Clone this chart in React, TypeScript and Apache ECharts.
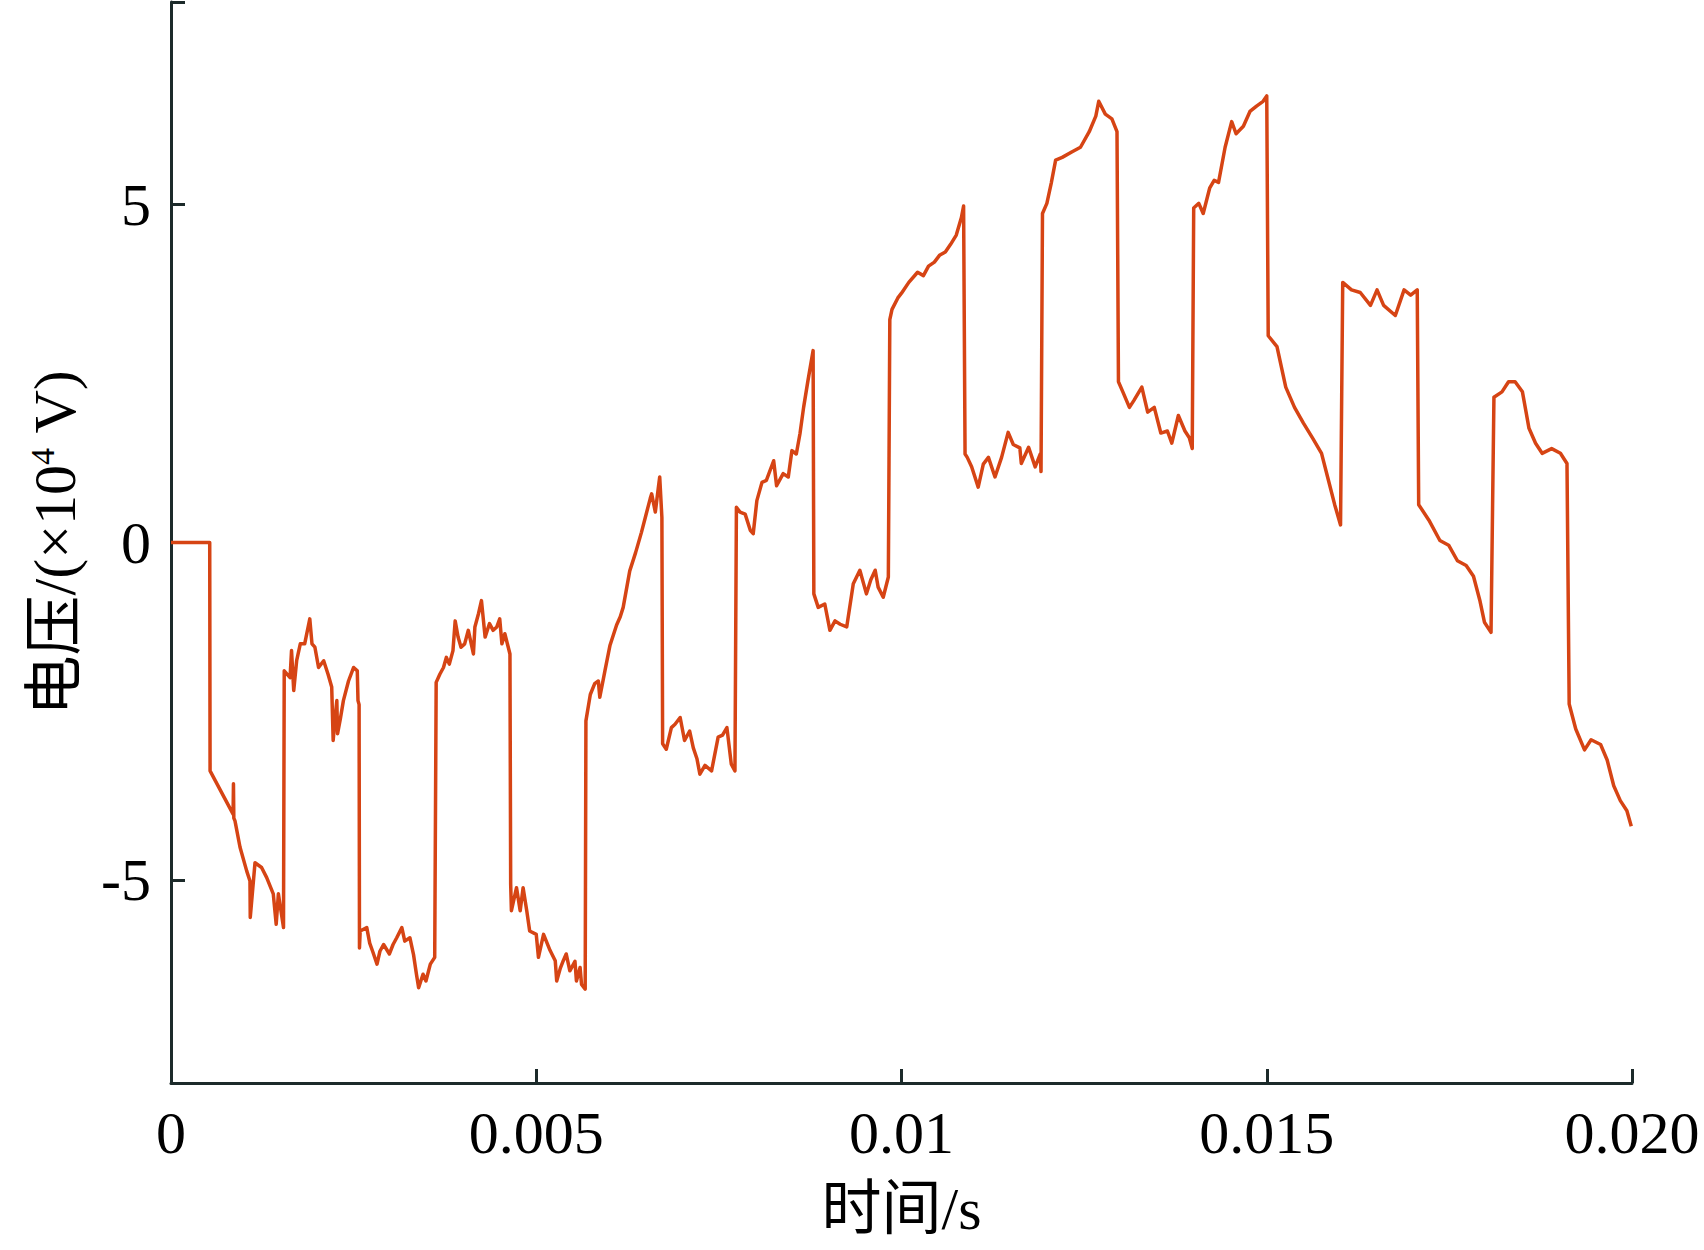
import React, { useEffect, useRef } from "react";
import * as echarts from "echarts";

// time in milliseconds (converted to seconds for the axis)
const timeMs = [
  0, 0.53, 0.535, 0.85, 0.855, 0.86, 0.876, 0.945, 1.036, 1.081, 1.085, 1.15, 1.24, 1.31, 1.40, 1.44, 1.47, 1.54,
  1.55, 1.63, 1.65, 1.68, 1.72, 1.77, 1.83, 1.90, 1.93, 1.97, 2.02, 2.09, 2.15, 2.20, 2.22, 2.25, 2.27, 2.28, 2.32, 2.36, 2.43, 2.50, 2.55, 2.56, 2.575,
  2.58, 2.59, 2.68, 2.72, 2.76, 2.82, 2.86, 2.91, 2.99, 3.04, 3.09, 3.16, 3.20, 3.27, 3.32, 3.36, 3.39, 3.45, 3.49, 3.55, 3.61,
  3.63, 3.68, 3.73, 3.77, 3.81, 3.86, 3.89, 3.93, 3.97, 4.02, 4.07, 4.14, 4.16, 4.21, 4.25, 4.30, 4.36, 4.41, 4.46, 4.50, 4.53, 4.57, 4.64,
  4.65, 4.66, 4.73, 4.78, 4.82, 4.87, 4.91, 5.0, 5.03, 5.10, 5.19, 5.26, 5.28, 5.33, 5.37, 5.41, 5.46, 5.53, 5.55, 5.60, 5.62, 5.67,
  5.68, 5.74, 5.80, 5.85, 5.87, 5.94, 6.01, 6.10, 6.15, 6.19, 6.28, 6.36, 6.44, 6.50, 6.56, 6.58, 6.63, 6.67, 6.69, 6.72,
  6.73, 6.78, 6.85, 6.90, 6.97, 7.03, 7.10, 7.15, 7.20, 7.24, 7.31, 7.40, 7.49, 7.55, 7.61, 7.67, 7.72,
  7.74, 7.79, 7.86, 7.93, 7.97, 8.02, 8.09, 8.15, 8.25, 8.29, 8.38, 8.45, 8.50, 8.56, 8.61, 8.66, 8.72, 8.79,
  8.80, 8.86, 8.95, 9.02, 9.09, 9.16, 9.25, 9.34, 9.43, 9.52, 9.58, 9.64, 9.68, 9.75, 9.82,
  9.84, 9.87, 9.95, 10.0, 10.1, 10.22, 10.3, 10.37, 10.45, 10.52, 10.6, 10.67, 10.75, 10.82, 10.85,
  10.87, 10.90, 10.96, 11.05, 11.12, 11.19, 11.28, 11.37, 11.46, 11.53, 11.62, 11.64, 11.74, 11.83, 11.90, 11.91,
  11.93, 11.99, 12.05, 12.11, 12.20, 12.33, 12.45, 12.57, 12.66, 12.70, 12.79, 12.88, 12.95,
  12.97, 13.03, 13.12, 13.18, 13.29, 13.37, 13.46, 13.55, 13.64, 13.70, 13.79, 13.88, 13.94, 13.98,
  14.0, 14.07, 14.13, 14.22, 14.28, 14.34, 14.43, 14.52, 14.58, 14.68, 14.77, 14.86, 14.95, 15.0,
  15.02, 15.14, 15.26, 15.38, 15.50, 15.63, 15.75, 15.84, 15.93, 16.01,
  16.04, 16.16, 16.28, 16.42, 16.51, 16.60, 16.76, 16.88, 16.97, 17.06,
  17.08, 17.22, 17.37, 17.49, 17.61, 17.73, 17.83, 17.92, 17.98, 18.07,
  18.11, 18.22, 18.31, 18.40, 18.50, 18.59, 18.68, 18.77, 18.90, 19.02, 19.11,
  19.14, 19.23, 19.35, 19.44, 19.57, 19.66, 19.75, 19.84, 19.93, 19.99,
];

// voltage in units of 10^4 V
const voltage = [
  0, 0, -3.38, -4.02, -3.57, -4.08, -4.12, -4.51, -4.86, -5.01, -5.55, -4.74, -4.81, -4.96, -5.20, -5.65, -5.20, -5.70,
  -1.90, -2.0, -1.60, -2.19, -1.75, -1.50, -1.50, -1.13, -1.50, -1.55, -1.85, -1.75, -1.95, -2.14, -2.93, -2.55, -2.34, -2.83, -2.60, -2.34, -2.05, -1.85, -1.90, -2.34, -2.40,
  -6.0, -5.75, -5.70, -5.93, -6.05, -6.24, -6.05, -5.95, -6.09, -5.95, -5.85, -5.70, -5.90, -5.85, -6.1, -6.39, -6.59, -6.39, -6.49, -6.24, -6.14,
  -2.07, -1.95, -1.85, -1.70, -1.80, -1.60, -1.16, -1.40, -1.55, -1.50, -1.30, -1.65, -1.25, -1.05, -0.86, -1.40, -1.20, -1.30, -1.25, -1.13, -1.50, -1.35, -1.65,
  -5.06, -5.45, -5.11, -5.45, -5.11, -5.45, -5.75, -5.8, -6.14, -5.8, -6.04, -6.19, -6.49, -6.3, -6.19, -6.09, -6.34, -6.2, -6.49, -6.29, -6.54, -6.61,
  -2.64, -2.25, -2.09, -2.05, -2.29, -1.90, -1.52, -1.22, -1.10, -0.96, -0.42, -0.15, 0.15, 0.40, 0.65, 0.72, 0.45, 0.80, 0.97, 0.37,
  -2.98, -3.06, -2.74, -2.69, -2.59, -2.93, -2.79, -3.04, -3.2, -3.43, -3.30, -3.38, -2.88, -2.85, -2.74, -3.28, -3.38,
  0.52, 0.45, 0.42, 0.18, 0.13, 0.62, 0.89, 0.92, 1.21, 0.84, 1.02, 0.97, 1.36, 1.31, 1.61, 2.0, 2.40, 2.84,
  -0.76, -0.96, -0.91, -1.30, -1.16, -1.21, -1.25, -0.61, -0.41, -0.76, -0.55, -0.41, -0.66, -0.81, -0.51,
  3.30, 3.45, 3.62, 3.69, 3.85, 4.0, 3.95, 4.09, 4.15, 4.25, 4.3, 4.41, 4.55, 4.81, 4.98,
  1.31, 1.26, 1.12, 0.82, 1.16, 1.26, 0.97, 1.26, 1.63, 1.45, 1.40, 1.17, 1.41, 1.12, 1.31, 1.05,
  4.87, 5.02, 5.32, 5.66, 5.70, 5.78, 5.85, 6.08, 6.31, 6.53, 6.34, 6.27, 6.08,
  2.38, 2.23, 2.0, 2.1, 2.30, 1.93, 2.0, 1.62, 1.65, 1.47, 1.88, 1.65, 1.55, 1.39,
  4.95, 5.02, 4.87, 5.25, 5.36, 5.33, 5.85, 6.23, 6.05, 6.16, 6.38, 6.46, 6.53, 6.61,
  3.06, 2.90, 2.30, 2.0, 1.77, 1.54, 1.32, 0.94, 0.56, 0.26,
  3.85, 3.74, 3.70, 3.51, 3.74, 3.51, 3.36, 3.74, 3.66, 3.74,
  0.56, 0.33, 0.03, -0.04, -0.27, -0.34, -0.50, -0.87, -1.18, -1.33,
  2.15, 2.23, 2.38, 2.38, 2.23, 1.69, 1.47, 1.32, 1.39, 1.32, 1.17,
  -2.39, -2.76, -3.07, -2.92, -2.99, -3.22, -3.60, -3.82, -3.97, -4.20,
];

const xTickLabels: Record<number, string> = { 0: "0", 50: "0.005", 100: "0.01", 150: "0.015", 200: "0.020" };
const yLabelValues = [-5, 0, 5];
const yTickValues = [-8, -5, 0, 5, 8];

const SERIF = "'Liberation Serif', 'Times New Roman', 'Noto Sans CJK SC', serif";
const AXIS_COLOR = "#1c2a2a";
const LINE_COLOR = "#D64414";

export default function App() {
  const ref = useRef<HTMLDivElement>(null);

  useEffect(() => {
    document.body.style.margin = "0";
    const chart = echarts.init(ref.current!, null, { renderer: "svg" });
    const data = timeMs.map((t, i) => [t / 1000, voltage[i]]);
    chart.setOption({
      animation: false,
      backgroundColor: "#ffffff",
      grid: {
        left: 171,
        right: 72,
        top: 2,
        bottom: 167,
        containLabel: false,
        outerBoundsMode: "none",
      },
      xAxis: {
        type: "value",
        min: 0,
        max: 0.02,
        interval: 0.005,
        name: "时间/s",
        nameLocation: "middle",
        nameGap: 96,
        nameTextStyle: { fontFamily: SERIF, fontSize: 60, color: "#000" },
        axisLine: { show: true, onZero: false, lineStyle: { color: AXIS_COLOR, width: 3 } },
        axisTick: { show: true, inside: true, length: 14, lineStyle: { color: AXIS_COLOR, width: 3 } },
        axisLabel: {
          show: true,
          margin: 20,
          fontFamily: SERIF,
          fontSize: 60,
          color: "#000",
          showMinLabel: true,
          showMaxLabel: true,
          formatter: (v: number) => xTickLabels[Math.round(v * 10000)] ?? "",
        },
        splitLine: { show: false },
      },
      yAxis: {
        type: "value",
        min: -8,
        max: 8,
        name: "电压/(×10{sup|4} V)",
        nameLocation: "middle",
        nameGap: 86,
        nameRotate: 90,
        nameTextStyle: {
          fontFamily: SERIF,
          fontSize: 60,
          color: "#000",
          rich: {
            sup: { fontFamily: SERIF, fontSize: 34, color: "#000", verticalAlign: "top" },
          },
        },
        axisLine: { show: true, onZero: false, lineStyle: { color: AXIS_COLOR, width: 3 } },
        axisTick: {
          show: true,
          inside: true,
          length: 14,
          customValues: yTickValues,
          lineStyle: { color: AXIS_COLOR, width: 3 },
        },
        axisLabel: {
          show: true,
          margin: 20,
          fontFamily: SERIF,
          fontSize: 60,
          color: "#000",
          customValues: yLabelValues,
          formatter: (v: number) => String(v),
        },
        splitLine: { show: false },
      },
      series: [
        {
          type: "line",
          data,
          showSymbol: false,
          symbol: "none",
          lineStyle: { color: LINE_COLOR, width: 3.5, join: "round" },
          itemStyle: { color: LINE_COLOR },
          z: 1,
        },
      ],
    });
    return () => chart.dispose();
  }, []);

  return <div ref={ref} style={{ width: 1704, height: 1250 }} />;
}
